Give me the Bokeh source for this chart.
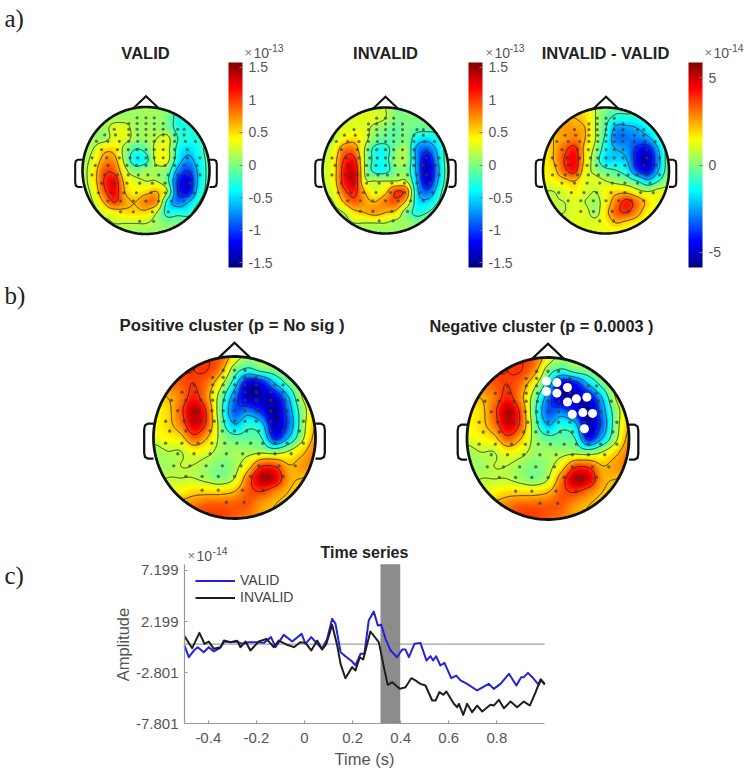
import numpy as np
from bokeh.plotting import figure
from bokeh.layouts import column
from bokeh.embed import file_html
from bokeh.resources import INLINE
from bokeh.core.properties import value
from bokeh.models import (Range1d, LinearColorMapper, ColorBar, FixedTicker,
                          Legend, LegendItem, BoxAnnotation)

SANS = "Liberation Sans"
SERIF = "Liberation Serif"

# ---- scalp maps, read by eye: 13 x 13 cells across the head, top row first,
#      in tenths of the colour bar's unit (the two b) maps share one grid)
VALID_GRID = [
    [1, 1, 1, 1, 1, 1, 1, 1, 0, -2, -2, -2, -2],
    [1, 1, 1, 1, 1, 1, 1, 1, 0, -3, -3, -3, -2],
    [1, 1, 1, 3, 3, 1, 1, 1, 0, -3, -3, -3, -2],
    [1, 1, 1, 3, 3, 1, 1, 2, 3, -2, -3, -3, -2],
    [1, 2, 5, 5, 1, -2, -1, 3, 3, -3, -5, -3, -1],
    [1, 3, 7, 7, 1, -4, -3, 3, 3, -4, -7, -4, -1],
    [1, 4, 9, 9, 3, 0, 1, 1, 0, -7, -10, -5, -1],
    [1, 4, 10, 12, 5, 3, 2, 2, -1, -10, -13, -5, -1],
    [1, 3, 9, 12, 6, 4, 5, 6, 2, -10, -12, -4, -1],
    [1, 2, 6, 10, 7, 6, 8, 7, -3, -8, -6, -2, 0],
    [1, 1, 3, 4, 5, 5, 5, 2, -3, -3, -3, 0, 0],
    [1, 1, 1, 2, 2, 2, 2, 1, 0, 0, 0, 0, 0],
    [1, 1, 1, 1, 1, 1, 1, 1, 1, 1, 1, 1, 1],
]
INVALID_GRID = [
    [1, 2, 3, 3, 3, 2, 2, 0, 0, 0, 0, 0, 0],
    [2, 2, 3, 3, 3, 3, 2, 0, 0, 0, 0, 0, 0],
    [2, 2, 3, 3, 3, 1, 0, -1, 0, -1, -1, -1, 0],
    [2, 2, 4, 5, 3, 0, -1, -1, 0, -4, -5, -3, 0],
    [2, 3, 8, 8, 2, -3, -3, 0, 1, -7, -9, -5, 0],
    [2, 4, 10, 11, 2, -3, -3, 1, 1, -7, -13, -6, 0],
    [2, 4, 11, 13, 2, -3, -3, 0, 0, -7, -14, -7, 0],
    [2, 4, 11, 13, 3, 2, 2, 2, 2, -6, -13, -6, 0],
    [2, 3, 9, 11, 6, 3, 5, 10, 8, -5, -9, -4, 1],
    [2, 2, 6, 9, 7, 6, 8, 9, 5, -4, -5, -2, 1],
    [1, 1, 2, 5, 6, 7, 6, 5, 0, -3, -2, 0, 1],
    [1, 1, 1, 2, 2, 2, 2, 1, 1, 0, 1, 1, 1],
    [1, 1, 1, 1, 1, 1, 1, 1, 1, 1, 1, 1, 1],
]
DIFF_GRID = [
    [5, 5, 5, 5, 5, 2, 0, -1, -1, -1, 0, 1, 1],
    [5, 5, 6, 6, 5, 2, -1, -3, -3, -3, -2, -1, 1],
    [5, 6, 7, 7, 6, 2, -2, -7, -7, -6, -4, -2, 1],
    [5, 6, 7, 8, 6, 2, -3, -8, -8, -8, -7, -3, 1],
    [4, 6, 9, 11, 5, 1, -4, -6, -7, -11, -12, -6, 0],
    [4, 6, 10, 12, 5, 0, -5, -5, -6, -12, -14, -7, 0],
    [4, 5, 9, 11, 4, 1, -1, -2, -4, -10, -12, -6, 0],
    [3, 4, 5, 6, 3, 3, 2, 1, 0, -2, -5, -2, 1],
    [2, 2, 3, 4, 3, 2, 4, 5, 5, 3, 2, 3, 3],
    [2, 2, 2, 3, 2, 1, 4, 8, 11, 8, 5, 3, 3],
    [2, 2, 2, 3, 3, 1, 5, 9, 10, 7, 4, 3, 3],
    [3, 3, 3, 3, 3, 3, 4, 6, 5, 4, 3, 2, 2],
    [3, 3, 3, 3, 3, 3, 3, 3, 3, 2, 2, 2, 2],
]
CLUSTER_GRID = [
    [8, 9, 10, 10, 10, 9, 4, 1, 2, 3, 4, 5, 6],
    [8, 9, 10, 10, 10, 7, 0, -3, -1, 0, 2, 5, 6],
    [6, 8, 9, 10, 8, 3, -4, -13, -12, -6, -1, 3, 6],
    [5, 6, 8, 11, 7, 0, -8, -14, -14, -13, -6, 2, 5],
    [4, 5, 9, 14, 9, -1, -9, -8, -11, -15, -8, 0, 5],
    [4, 5, 8, 13, 9, 0, -6, -3, -5, -14, -9, 0, 6],
    [3, 4, 5, 9, 6, 1, -1, -1, -2, -11, -6, 1, 7],
    [1, 2, 2, 4, 3, 1, 1, 1, 1, 0, 2, 5, 8],
    [1, 1, 2, 2, 1, 0, 1, 4, 9, 9, 6, 7, 8],
    [1, 2, 2, 2, 1, 0, 2, 8, 14, 13, 7, 6, 6],
    [3, 3, 4, 5, 5, 5, 6, 9, 10, 8, 6, 5, 5],
    [5, 6, 7, 8, 9, 9, 9, 9, 7, 6, 5, 5, 5],
    [7, 8, 9, 10, 10, 10, 9, 8, 7, 6, 5, 5, 5],
]
CONTOUR_LEVELS = [-10, -6, -2, 2, 6, 10]

# sensors, in head radii from the head's centre
SENSOR_U = [-.14, 0, .13,
            -.27, -.14, 0, .13, .27,
            -.5, -.27, -.14, 0, .13, .27, .5, .6,
            -.65, -.48, -.27, -.13, 0, .13, .27, .45, .6,
            -.78, -.6, -.42, -.27, -.13, 0, .13, .27, .45, .62, .78,
            -.7, -.45, -.28, -.14, 0, .13, .27, .45, .65,
            -.85, -.62, -.42, -.25, -.13, 0, .13, .27, .45, .65, .85,
            -.8, -.6, -.3, -.15, 0, .15, .3, .45, .6, .8,
            -.85, -.65, -.45, -.28, -.12, .03, .2, .35, .5, .65, .85,
            -.7, -.5, -.3, -.1, .1, .3, .5, .7,
            -.75, -.55, -.35, -.15, .08, .3, .55, .75,
            -.6, -.4, -.2, 0, .2, .4, .6,
            -.4, -.2, .1, .35,
            -.1, .12]
SENSOR_V = [.83] * 3 + [.74] * 5 + [.65] * 8 + [.56] * 9 + [.46] * 11 + [.33] * 9 + [.2] * 11 + \
           [.08] * 10 + [-.07] * 11 + [-.2] * 8 + [-.35] * 8 + [-.48] * 7 + [-.65] * 4 + [-.8] * 2

CLUSTER_U = [-.02, .11, -.02, .11, .24, .24, .35, .48, .30, .43, .55, .45]
CLUSTER_V = [.71, .69, .58, .56, .63, .45, .49, .51, .30, .32, .31, .12]

# ---- time series
VALID_T = [-.499, -.481, -.46, -.444, -.419, -.398, -.377, -.352, -.333, -.308, -.28, -.259, -.231,
           -.197, -.169, -.139, -.121, -.086, -.051, -.012, .004, .028, .053, .073, .094, .115, .129,
           .15, .17, .198, .212, .233, .249, .267, .288, .305, .319, .337, .358, .385, .406, .42, .434,
           .457, .482, .507, .524, .535, .547, .565, .582, .61, .631, .649, .676, .718, .766, .787,
           .815, .85, .881, .901, .912, .929, .947, .974, .984, .999]
VALID_Y = [-.14, -1.28, -.63, -.3, -.79, -.3, -.72, -.4, .25, .19, .25, .03, .19,
           .19, .12, .68, -.3, .9, .25, 1.0, .03, .68, .03, -.46, .51, 2.47, 1.98,
           -.79, -1.18, -1.7, -2.09, -.95, -.95, 2.3, 3.18, 1.82, 1.88, .51, -.63, -1.28, -.53, -.53, -1.28,
           .03, .12, -1.6, -1.18, -1.6, -1.18, -2.09, -1.83, -3.33, -3.07, -3.55, -3.88, -4.53, -3.88, -4.37,
           -3.88, -2.9, -4.04, -3.23, -3.23, -2.81, -3.23, -3.98, -3.46, -3.88]
INVALID_T = [-.499, -.467, -.437, -.416, -.398, -.377, -.349, -.335, -.308, -.28, -.266, -.245, -.225,
             -.19, -.158, -.128, -.107, -.072, -.044, -.017, .004, .028, .053, .073, .091, .115, .136,
             .15, .17, .198, .212, .23, .244, .274, .309, .33, .346, .365, .396, .42, .444, .461, .482,
             .503, .531, .545, .561, .577, .59, .621, .635, .642, .66, .676, .697, .718, .739, .773, .787,
             .808, .829, .857, .884, .912, .937, .961, .981, .999]
INVALID_Y = [.78, -.4, 1.1, .03, .25, -.46, -.3, .35, .19, .32, -.3, .25, -.62,
             .25, .51, -.3, .35, -.07, -.3, .19, .12, -.62, .35, -.53, .03, 1.88, -.14,
             -1.93, -3.33, -2.25, -2.58, -1.28, -1.5, 1.23, .19, -2.25, -3.98, -3.72, -4.37, -4.21, -3.33, -3.55, -3.88,
             -4.04, -5.51, -5.51, -4.69, -4.95, -4.63, -5.83, -6.16, -5.83, -6.91, -5.83, -6.65, -6.0, -6.58, -5.93, -6.0,
             -5.44, -6.26, -5.61, -6.16, -5.61, -6.0, -4.69, -3.46, -3.95]
WINDOW = [0.316, 0.398]
X_TICKS = [-.4, -.2, 0, .2, .4, .6, .8]
Y_TICKS = [7.199, 2.199, -2.801, -7.801]
Y_TICK_LABELS = ["7.199", "2.199", "-2.801", "-7.801"]

# ---- page layout: the figures start at the page's corner, so the upper figure's
#      data units are page pixels (y flipped); the lower one spans the rest of the page
TOP_H = 540
LOW_H = 236
WIDTH = 751
Y = lambda py: TOP_H - py


def jet(n=256):
    x = (np.arange(n) + .5) / n
    f = lambda c: np.clip(1.5 - np.abs(4 * x - c), 0, 1)
    return ["#%02x%02x%02x" % (int(r * 255), int(g * 255), int(b * 255))
            for r, g, b in zip(f(3), f(2), f(1))]


JET = jet()
mapper = LinearColorMapper(palette=JET, low=-15.7, high=15.7, nan_color="#00000000")


def upsample_matrix(n, m):
    """Catmull-Rom weights taking n cells to m samples."""
    pos = np.linspace(0, n - 1, m)
    W = np.zeros((m, n))
    for k, p in enumerate(pos):
        i = min(int(p), n - 2)
        t = p - i
        w = [-.5 * t ** 3 + t ** 2 - .5 * t, 1.5 * t ** 3 - 2.5 * t ** 2 + 1,
             -1.5 * t ** 3 + 2 * t ** 2 + .5 * t, .5 * t ** 3 - .5 * t ** 2]
        for j, wj in zip((i - 1, i, i + 1, i + 2), w):
            W[k, min(max(j, 0), n - 1)] += wj
    return W


M = 221
WM = upsample_matrix(13, M)
axis_n = np.linspace(-1, 1, M)
UU, VV = np.meshgrid(axis_n, axis_n)
OUTSIDE = UU ** 2 + VV ** 2 > 1.0

p = figure(width=WIDTH, height=TOP_H, x_range=Range1d(0, WIDTH), y_range=Range1d(0, TOP_H),
           toolbar_location=None, output_backend="svg", min_border=0, outline_line_color=None,
           frame_align=False)
p.axis.visible = False
p.grid.visible = False
p.background_fill_color = None
p.border_fill_color = None


def head(grid, cx, cy, r, lw, dot):
    z = WM @ np.array(grid, dtype=float)[::-1] @ WM.T
    shown = z.copy()
    shown[OUTSIDE] = np.nan
    p.image(image=[shown], x=cx - r, y=Y(cy + r), dw=2 * r, dh=2 * r, color_mapper=mapper)
    xs = cx + axis_n * r
    ys = Y(cy) + axis_n * r
    p.contour(xs, ys, np.ma.masked_where(OUTSIDE, z), levels=CONTOUR_LEVELS, fill_color=None,
              line_color="#1c1c1c", line_width=1, line_alpha=.8)
    p.scatter(cx + np.array(SENSOR_U) * r, Y(cy) + np.array(SENSOR_V) * r, size=dot,
              fill_color="#3a3a3a", fill_alpha=.7, line_color=None)
    # outline: circle, nose, two ears
    t = np.linspace(0, 2 * np.pi, 200)
    p.line(cx + r * np.cos(t), Y(cy) + r * np.sin(t), line_color="#111111", line_width=lw)
    p.line([cx - .2 * r, cx, cx + .2 * r], [Y(cy) + .98 * r, Y(cy) + 1.17 * r, Y(cy) + .98 * r],
           line_color="#111111", line_width=lw * .8, line_join="miter")
    for s in (-1, 1):
        ear_u = np.array([1.0, 1.07, 1.105, 1.115, 1.115, 1.105, 1.07, 1.0])
        ear_v = np.array([.17, .17, .15, .1, -.19, -.24, -.26, -.26])
        p.line(cx + s * ear_u * r, Y(cy) + ear_v * r, line_color="#111111", line_width=lw * .8,
               line_join="round")


head(VALID_GRID, 145.5, 170, 63.5, 2.6, 3.2)
head(INVALID_GRID, 385, 170, 63, 2.6, 3.2)
head(DIFF_GRID, 605.5, 170, 63, 2.6, 3.2)
head(CLUSTER_GRID, 234, 437, 81, 2.8, 3.4)
head(CLUSTER_GRID, 547.5, 438, 81, 2.8, 3.4)

p.scatter(547.5 + np.array(CLUSTER_U) * 81, Y(438) + np.array(CLUSTER_V) * 81, size=9,
          fill_color="white", line_color=None)


def bar(left, ticks, labels, vmax):
    m = LinearColorMapper(palette=JET, low=-vmax, high=vmax)
    cb = ColorBar(color_mapper=m, ticker=FixedTicker(ticks=ticks), major_label_overrides=dict(zip(ticks, labels)),
                  location=(left, TOP_H - 267), width=14, height=205, padding=0, margin=0,
                  label_standoff=6, major_tick_in=3, major_tick_line_color="#777777", minor_tick_line_color=None,
                  major_label_text_font=SANS, major_label_text_font_size="14px",
                  major_label_text_color="#555555", bar_line_color=None, border_line_color=None,
                  background_fill_alpha=0)
    p.add_layout(cb, "center")


bar(228, [-1.5, -1, -.5, 0, .5, 1, 1.5], ["-1.5", "-1", "-0.5", "0", "0.5", "1", "1.5"], 1.57)
bar(468, [-1.5, -1, -.5, 0, .5, 1, 1.5], ["-1.5", "-1", "-0.5", "0", "0.5", "1", "1.5"], 1.57)
bar(688, [-5, 0, 5], ["-5", "0", "5"], 5.86)


def txt(fig, x, y, s, size, color="#222222", font=SANS, style="normal", align="left", angle=0):
    fig.text([x], [y], text=[s], text_font=value(font), text_font_size=value(size), text_color=color,
             text_font_style=style, text_align=align, text_baseline="middle", angle=angle)


txt(p, 145, Y(52), "VALID", "16.5px", style="bold", align="center")
txt(p, 385, Y(52), "INVALID", "16.5px", style="bold", align="center")
txt(p, 605, Y(52), "INVALID - VALID", "16.5px", style="bold", align="center")
txt(p, 119, Y(325), "Positive cluster (p = No sig )", "16.8px", style="bold")
txt(p, 429, Y(325), "Negative cluster (p = 0.0003 )", "16.3px", style="bold")
for x0, e in ((244, "-13"), (485, "-13"), (704, "-14")):
    txt(p, x0, Y(52), "\u00d7", "13px", color="#777777")
    txt(p, x0 + 9, Y(52), "10", "14px", color="#555555")
    txt(p, x0 + 24, Y(47), e, "10.5px", color="#555555")
txt(p, 4, Y(18), "a)", "25px", font=SERIF)
txt(p, 4, Y(295), "b)", "25px", font=SERIF)

# ---- time series: the frame fills the figure, the axes sit inside it at fixed places
PX_T, X0 = 240.5, 304      # pixels per second, page x of t = 0
PX_A, Y0 = 10.24, 643.6    # pixels per unit, page y of amplitude 0
T = lambda px: (px - X0) / PX_T
A = lambda py: (Y0 - py) / PX_A
A_LOW, A_HIGH = -7.801, 7.8
T_LOW, T_HIGH = -.499, .999

q = figure(width=WIDTH, height=LOW_H, x_range=Range1d(T(0), T(WIDTH)), y_range=Range1d(A(TOP_H + LOW_H), A(TOP_H)),
           toolbar_location=None, output_backend="svg", min_border=0, outline_line_color=None, frame_align=False)
q.grid.visible = False
q.background_fill_color = None
q.border_fill_color = None
q.xaxis.ticker = FixedTicker(ticks=X_TICKS)
q.yaxis.ticker = FixedTicker(ticks=Y_TICKS)
q.xaxis.major_label_overrides = {t: ("0" if t == 0 else "%g" % t) for t in X_TICKS}
q.yaxis.major_label_overrides = dict(zip(Y_TICKS, Y_TICK_LABELS))
q.xaxis.fixed_location = A_LOW
q.yaxis.fixed_location = T_LOW
q.xaxis.bounds = (T_LOW, T_HIGH)
q.yaxis.bounds = (A_LOW, A_HIGH)
for ax in (q.xaxis[0], q.yaxis[0]):
    ax.axis_line_color = "#999999"
    ax.axis_line_width = 1.2
    ax.major_tick_line_color = "#999999"
    ax.major_tick_in = 3
    ax.major_tick_out = 0
    ax.minor_tick_line_color = None
    ax.major_label_text_font = SANS
    ax.major_label_text_font_size = "15px"
    ax.major_label_text_color = "#555555"
q.xaxis.major_label_standoff = 9
q.yaxis.major_label_standoff = 6
q.yaxis.major_label_orientation = "horizontal"

q.add_layout(BoxAnnotation(left=WINDOW[0], right=WINDOW[1], bottom=A_LOW, top=A_HIGH, fill_color="#8c8c8c",
                           fill_alpha=1, line_color=None, level="underlay"))
q.line([T_LOW, T_HIGH], [0, 0], line_color="#888888", line_width=1)
r1 = q.line(VALID_T, VALID_Y, line_color="#2222dd", line_width=2, line_join="round")
r2 = q.line(INVALID_T, INVALID_Y, line_color="#1e1e1e", line_width=2, line_join="round")
legend = Legend(items=[LegendItem(label="VALID", renderers=[r1]), LegendItem(label="INVALID", renderers=[r2])],
                location=(195, LOW_H - 65.5), orientation="vertical", background_fill_alpha=0,
                border_line_color=None, label_text_font=SANS, label_text_font_size="14px",
                label_text_color="#444444", glyph_width=40, glyph_height=17, label_height=17, spacing=0,
                padding=2, margin=0, label_standoff=5)
q.add_layout(legend, "center")

txt(q, T(364), A(552), "Time series", "16px", style="bold", align="center")
txt(q, T(187), A(555), "\u00d7", "13px", color="#777777")
txt(q, T(196), A(555), "10", "14px", color="#555555")
txt(q, T(212), A(550), "-14", "10.5px", color="#555555")
txt(q, T(4), A(575), "c)", "25px", font=SERIF)
txt(q, T(364), A(758), "Time (s)", "16.5px", color="#555555", align="center")
txt(q, T(122), A(644), "Amplitude", "16.5px", color="#555555", align="center", angle=np.pi / 2)

page = column(p, q, spacing=0)
open("out.html", "w").write(file_html(page, INLINE))
